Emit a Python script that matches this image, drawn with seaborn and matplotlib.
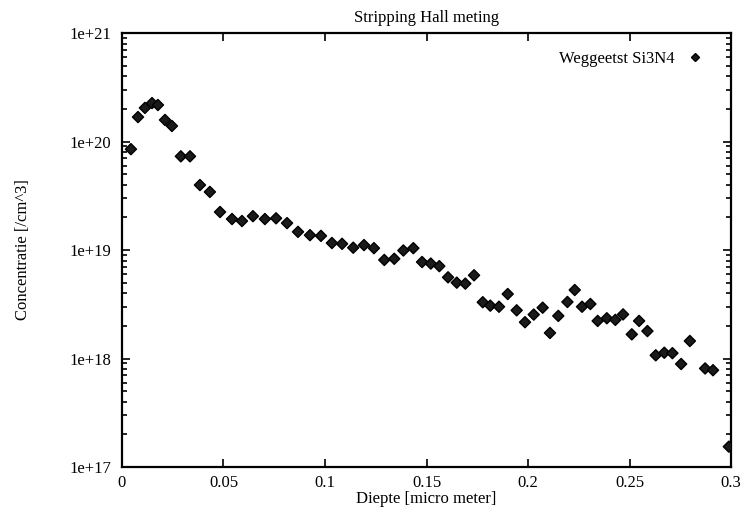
import numpy as np
import pandas as pd
import matplotlib
matplotlib.use("Agg")
import matplotlib.pyplot as plt
import seaborn as sns
from matplotlib.ticker import LogLocator, NullFormatter, FixedLocator

depth = [0.0044, 0.0079, 0.0113, 0.0148, 0.0177, 0.0212, 0.0246, 0.0290, 0.0335,
         0.0384, 0.0433, 0.0483, 0.0542, 0.0591, 0.0645, 0.0704, 0.0759, 0.0813,
         0.0867, 0.0926, 0.0980, 0.1034, 0.1084, 0.1139, 0.1192, 0.1241, 0.1292,
         0.1341, 0.1386, 0.1435, 0.1478, 0.1521, 0.1563, 0.1606, 0.1649, 0.1691,
         0.1734, 0.1777, 0.1814, 0.1857, 0.1900, 0.1944, 0.1985, 0.2028, 0.2072,
         0.2108, 0.2149, 0.2194, 0.2230, 0.2266, 0.2307, 0.2343, 0.2388, 0.2430,
         0.2468, 0.2511, 0.2547, 0.2588, 0.2629, 0.2671, 0.2711, 0.2754, 0.2797,
         0.2872, 0.2911, 0.2989]
conc = [8.5e19, 1.68e20, 2.04e20, 2.26e20, 2.17e20, 1.58e20, 1.39e20, 7.3e19, 7.3e19,
        3.97e19, 3.43e19, 2.24e19, 1.93e19, 1.85e19, 2.05e19, 1.93e19, 1.96e19, 1.77e19,
        1.47e19, 1.37e19, 1.35e19, 1.16e19, 1.14e19, 1.05e19, 1.11e19, 1.04e19, 8.1e18,
        8.3e18, 9.9e18, 1.04e19, 7.75e18, 7.5e18, 7.1e18, 5.6e18, 5.0e18, 4.9e18,
        5.85e18, 3.3e18, 3.07e18, 3.0e18, 3.93e18, 2.78e18, 2.16e18, 2.54e18, 2.94e18,
        1.72e18, 2.47e18, 3.32e18, 4.28e18, 3.0e18, 3.18e18, 2.22e18, 2.35e18, 2.27e18,
        2.55e18, 1.67e18, 2.22e18, 1.79e18, 1.07e18, 1.13e18, 1.12e18, 8.9e17, 1.45e18,
        8.1e17, 7.8e17, 1.54e17]
series_name = "Weggeetst Si3N4"
title = "Stripping Hall meting"
xlabel = "Diepte [micro meter]"
ylabel = "Concentratie [/cm^3]"
xticks = [0, 0.05, 0.1, 0.15, 0.2, 0.25, 0.3]
xticklabels = ["0", "0.05", "0.1", "0.15", "0.2", "0.25", "0.3"]
yticks = [1e17, 1e18, 1e19, 1e20, 1e21]
yticklabels = ["1e+17", "1e+18", "1e+19", "1e+20", "1e+21"]

sns.set_style("ticks")
plt.rcParams['font.family'] = ['Liberation Serif', 'DejaVu Serif']
for k in ["text.color", "axes.labelcolor", "xtick.color", "ytick.color", "axes.edgecolor"]:
    plt.rcParams[k] = "black"
fs = 12

df = pd.DataFrame({"x": depth, "y": conc, "s": series_name})

fig = plt.figure(figsize=(7.46, 5.11), dpi=100)
ax = fig.add_axes([0.1635, 0.0861, 0.8165, 0.8493])
sns.scatterplot(data=df, x="x", y="y", hue="s", palette=["#1a1a1a"], marker="D",
                s=32, edgecolor="black", linewidth=1.0, ax=ax, zorder=3)
ax.set_yscale("log")
ax.set_xlim(0, 0.3)
ax.set_ylim(1e17, 1e21)
ax.xaxis.set_major_locator(FixedLocator(xticks))
ax.set_xticklabels(xticklabels, fontsize=fs)
ax.yaxis.set_major_locator(FixedLocator(yticks))
ax.set_yticklabels(yticklabels, fontsize=fs)
ax.yaxis.set_minor_locator(LogLocator(base=10, subs=np.arange(2, 10)))
ax.yaxis.set_minor_formatter(NullFormatter())
ax.tick_params(which="both", direction="in", top=True, right=True, width=1.2, color="black")
ax.tick_params(which="major", length=6)
ax.tick_params(axis="y", which="major", pad=8)
ax.tick_params(axis="x", which="major", pad=6)
ax.tick_params(which="minor", length=3.5)
for sp in ax.spines.values():
    sp.set_linewidth(1.6)
    sp.set_color("black")
    sp.set_visible(True)
ax.set_xlabel(xlabel, fontsize=fs, labelpad=0)
ax.set_ylabel(ylabel, fontsize=fs, labelpad=27)
ax.set_title(title, fontsize=fs, pad=8)
leg = ax.legend(loc="upper right", bbox_to_anchor=(0.965, 0.9745), borderaxespad=0,
                frameon=False, markerfirst=False, fontsize=fs, handlelength=1.0,
                handletextpad=0.7, markerscale=0.7)
fig.savefig("out.png", dpi=100)
